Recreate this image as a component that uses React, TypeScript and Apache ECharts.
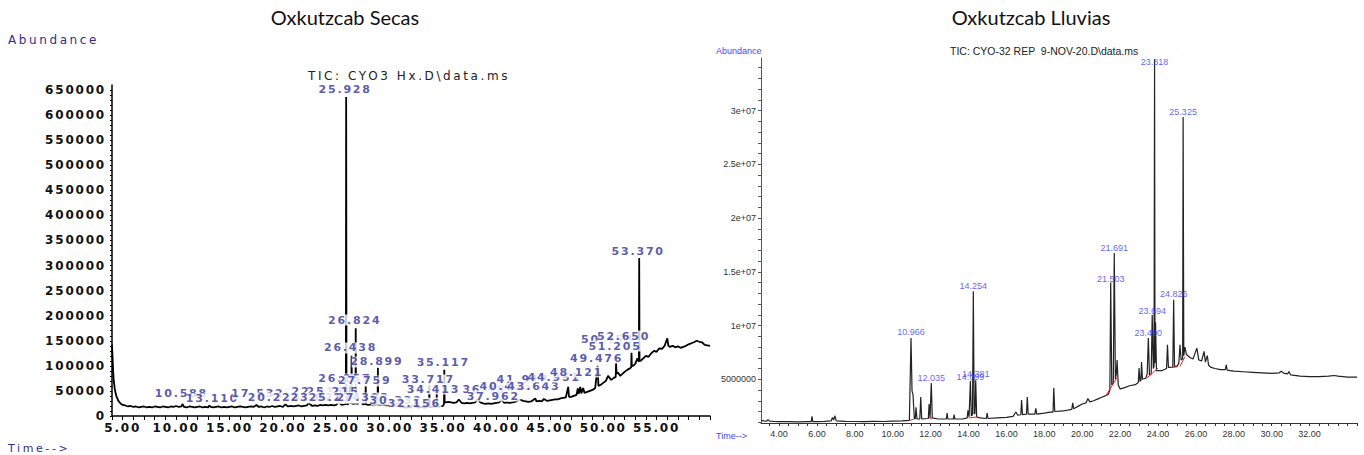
import React, { useEffect, useRef } from 'react';
import * as echarts from 'echarts';

// ---------------- DATA ----------------
const LEFT_TITLE = 'Oxkutzcab Secas';
const RIGHT_TITLE = 'Oxkutzcab Lluvias';
const LEFT_TIC = 'TIC: CYO3 Hx.D\\data.ms';
const RIGHT_TIC = 'TIC: CYO-32 REP  9-NOV-20.D\\data.ms';

const LEFT_Y_LABELS = [0, 50000, 100000, 150000, 200000, 250000, 300000, 350000, 400000, 450000, 500000, 550000, 600000, 650000];
const LEFT_X_LABELS = [5, 10, 15, 20, 25, 30, 35, 40, 45, 50, 55];

const RIGHT_Y_VALUES = [5000000, 10000000, 15000000, 20000000, 25000000, 30000000];
const RIGHT_Y_TEXT = ['5000000', '1e+07', '1.5e+07', '2e+07', '2.5e+07', '3e+07'];
const RIGHT_X_LABELS = [4, 6, 8, 10, 12, 14, 16, 18, 20, 22, 24, 26, 28, 30, 32];

// Left TIC: [retention time (min), abundance (thousands)]
const LEFT_SIGNAL_K: [number, number][] = [
  [4.00, 142], [4.05, 118], [4.10, 92], [4.15, 74], [4.25, 55], [4.40, 40], [4.60, 30], [4.80, 25], [5.00, 22], [5.25, 21],
  [5.50, 19], [5.75, 20], [6.00, 18], [6.25, 19], [6.50, 17], [6.75, 18], [7.00, 19], [7.25, 17], [7.50, 18], [7.75, 17],
  [8.00, 19], [8.25, 18], [8.50, 17], [8.75, 19], [9.00, 18], [9.25, 17], [9.50, 19], [9.75, 18], [10.00, 20], [10.25, 18],
  [10.50, 19], [10.59, 24], [10.75, 18], [11.00, 17], [11.25, 19], [11.50, 18], [11.75, 17], [12.00, 18], [12.25, 19], [12.50, 17],
  [12.75, 18], [13.00, 17], [13.11, 21], [13.25, 18], [13.50, 17], [13.75, 18], [14.00, 19], [14.25, 17], [14.50, 18], [14.75, 17],
  [15.00, 18], [15.25, 19], [15.50, 17], [15.75, 18], [16.00, 19], [16.25, 18], [16.50, 17], [16.75, 18], [17.00, 19], [17.25, 18],
  [17.53, 22], [17.75, 18], [18.00, 19], [18.25, 17], [18.50, 19], [18.75, 18], [19.00, 20], [19.25, 18], [19.50, 19], [19.75, 20],
  [20.00, 18], [20.23, 23], [20.50, 19], [20.75, 20], [21.00, 19], [21.25, 20], [21.50, 21], [21.75, 19], [22.00, 20], [22.25, 21],
  [22.42, 26], [22.75, 20], [23.00, 21], [23.25, 20], [23.50, 22], [23.75, 21], [24.00, 22], [24.25, 21], [24.50, 22], [24.75, 21],
  [25.00, 22], [25.22, 28], [25.50, 22], [25.75, 23], [25.90, 24], [25.928, 636], [25.96, 24], [26.10, 23], [26.22, 30], [26.26, 60],
  [26.30, 26], [26.41, 25], [26.438, 120], [26.47, 25], [26.60, 24], [26.80, 25], [26.824, 175], [26.85, 25], [27.00, 24], [27.30, 30],
  [27.50, 23], [27.73, 24], [27.759, 60], [27.79, 23], [28.00, 22], [28.25, 23], [28.50, 22], [28.75, 23], [28.87, 23], [28.899, 96],
  [28.93, 22], [29.10, 22], [29.25, 23], [29.50, 22], [29.75, 21], [30.00, 22], [30.33, 27], [30.50, 21], [30.75, 20], [31.00, 19],
  [31.25, 18], [31.50, 17], [31.75, 18], [32.00, 17], [32.15, 22], [32.50, 18], [32.75, 17], [33.00, 18], [33.25, 17], [33.50, 18],
  [33.69, 18], [33.717, 65], [33.75, 18], [34.00, 18], [34.25, 19], [34.39, 19], [34.413, 46], [34.44, 19], [34.60, 18], [34.75, 19],
  [35.00, 20], [35.09, 24], [35.117, 92], [35.15, 27], [35.25, 27], [35.50, 28], [35.75, 27], [36.00, 26], [36.25, 27], [36.48, 33],
  [36.75, 26], [37.00, 25], [37.25, 26], [37.50, 25], [37.75, 26], [38.00, 27], [38.25, 34], [38.50, 27], [38.75, 25], [39.00, 24],
  [39.25, 25], [39.50, 24], [39.75, 25], [40.00, 26], [40.25, 27], [40.45, 32], [40.75, 26], [41.00, 27], [41.25, 26], [41.50, 27],
  [41.75, 28], [42.00, 31], [42.25, 32], [42.50, 30], [42.75, 29], [43.00, 28], [43.25, 29], [43.64, 35], [43.75, 29], [44.00, 30],
  [44.25, 29], [44.45, 34], [44.75, 30], [45.00, 31], [45.25, 32], [45.50, 33], [45.75, 33], [46.00, 35], [46.25, 36], [46.50, 37],
  [46.72, 58], [46.80, 38], [47.00, 38], [47.25, 40], [47.50, 42], [47.62, 55], [47.70, 44], [47.85, 58], [47.95, 45], [48.121, 56],
  [48.25, 46], [48.50, 48], [48.75, 50], [49.00, 52], [49.25, 56], [49.476, 100], [49.55, 60], [49.75, 62], [50.00, 66], [50.25, 70],
  [50.45, 80], [50.75, 72], [51.00, 76], [51.17, 78], [51.205, 106], [51.25, 85], [51.40, 86], [51.60, 80], [51.80, 84], [52.00, 88],
  [52.25, 92], [52.50, 95], [52.62, 97], [52.650, 126], [52.68, 100], [52.80, 100], [53.00, 104], [53.20, 115], [53.34, 108], [53.370, 315],
  [53.40, 110], [53.50, 110], [53.75, 115], [54.00, 120], [54.25, 118], [54.50, 125], [54.75, 130], [55.00, 128], [55.25, 135], [55.50, 134],
  [55.75, 140], [56.00, 155], [56.10, 140], [56.25, 138], [56.50, 140], [56.75, 137], [57.00, 139], [57.25, 136], [57.50, 138], [57.75, 140],
  [58.00, 143], [58.25, 145], [58.50, 147], [58.75, 150], [59.00, 148], [59.25, 147], [59.50, 142], [59.75, 141], [60.00, 140],
];

// Left peak labels: [text, anchor time (min), anchor abundance (thousands)]
const LEFT_PEAK_LABELS: [string, number, number][] = [
  ['10.588', 10.59, 43.9], ['13.110', 13.5, 33.9], ['17.532', 17.76, 43.9], ['20.228', 19.3, 35.9],
  ['22.418', 23.4, 49.8], ['25.215', 24.8, 49.8], ['23.025', 23.3, 35.9], ['25.274', 25.0, 35.9],
  ['26.257', 25.9, 73.8], ['27.303', 27.6, 35.9], ['30.332', 30.7, 31.9], ['32.156', 32.4, 25.9],
  ['25.928', 25.928, 651.9], ['26.824', 26.824, 191.4], ['26.438', 26.438, 135.6], ['28.899', 28.899, 107.7],
  ['27.759', 27.759, 69.8], ['35.117', 35.117, 105.7], ['33.717', 33.717, 71.8], ['34.413', 34.2, 53.8],
  ['36.484', 39.4, 53.8], ['37.962', 39.8, 39.8], ['40.433', 41.0, 59.8], ['41.917', 42.6, 71.8],
  ['43.643', 43.6, 59.8], ['44.951', 45.5, 77.7], ['48.121', 47.6, 87.7], ['49.476', 49.476, 115.6],
  ['50.458', 50.5, 153.5], ['51.205', 51.2, 139.5], ['52.650', 52.0, 159.5], ['53.370', 53.37, 329.0],
];

// Right TIC: [retention time (min), abundance (millions)]
const RIGHT_SIGNAL_M: [number, number][] = [
  [3.05, 1.16], [3.2, 1.12], [3.35, 1.10], [3.42, 1.25], [3.5, 1.10], [3.7, 1.08], [4.0, 1.06], [4.5, 1.05], [5.0, 1.04], [5.5, 1.05],
  [5.7, 1.05], [5.74, 1.55], [5.78, 1.06], [6.0, 1.05], [6.4, 1.08], [6.75, 1.12], [6.82, 1.45], [6.88, 1.2], [6.95, 1.6], [7.02, 1.12],
  [7.5, 1.08], [8.0, 1.07], [8.5, 1.06], [9.0, 1.08], [9.5, 1.07], [10.0, 1.10], [10.5, 1.12], [10.88, 1.18], [10.966, 8.85], [11.02, 3.9],
  [11.07, 3.6], [11.14, 1.35], [11.19, 1.3], [11.23, 2.4], [11.28, 1.3], [11.43, 1.3], [11.48, 3.35], [11.53, 1.3], [11.88, 1.35], [11.92, 2.7],
  [11.97, 1.4], [12.035, 4.65], [12.09, 1.4], [12.4, 1.3], [12.83, 1.3], [12.87, 1.85], [12.91, 1.3], [13.2, 1.3], [13.24, 1.7], [13.28, 1.3],
  [13.7, 1.3], [13.93, 1.4], [13.97, 2.1], [14.03, 1.5], [14.099, 4.84], [14.15, 1.6], [14.21, 1.7], [14.254, 13.2], [14.3, 1.8], [14.34, 1.8],
  [14.381, 4.9], [14.43, 1.5], [14.6, 1.4], [14.94, 1.35], [14.98, 1.86], [15.03, 1.35], [15.5, 1.4], [16.0, 1.45], [16.35, 1.55], [16.5, 1.95],
  [16.6, 1.65], [16.76, 1.7], [16.8, 3.07], [16.85, 1.7], [17.06, 1.75], [17.1, 3.35], [17.15, 1.75], [17.5, 1.75], [17.55, 2.3], [17.6, 1.75],
  [18.0, 1.85], [18.3, 1.95], [18.46, 1.95], [18.5, 4.2], [18.55, 2.0], [19.0, 2.05], [19.45, 2.2], [19.5, 2.8], [19.55, 2.25], [19.8, 2.5],
  [20.0, 2.7], [20.2, 2.8], [20.3, 3.2], [20.4, 2.9], [20.6, 3.0], [20.8, 3.15], [21.0, 3.3], [21.2, 3.45], [21.38, 3.6], [21.46, 4.0],
  [21.503, 14.0], [21.56, 4.5], [21.64, 4.6], [21.691, 16.75], [21.75, 5.0], [21.80, 5.5], [21.84, 6.8], [21.9, 4.5], [22.0, 4.1], [22.2, 4.2],
  [22.5, 4.4], [22.8, 4.5], [22.96, 4.7], [23.0, 6.05], [23.05, 4.8], [23.1, 4.9], [23.13, 6.6], [23.18, 5.0], [23.35, 5.1], [23.43, 5.5],
  [23.49, 8.85], [23.55, 5.4], [23.64, 5.5], [23.694, 11.0], [23.75, 6.0], [23.79, 6.2], [23.818, 34.8], [23.84, 6.5], [23.87, 10.3], [23.92, 5.8],
  [24.2, 5.8], [24.45, 6.0], [24.5, 8.2], [24.55, 6.1], [24.78, 6.1], [24.826, 12.4], [24.87, 6.2], [25.0, 6.2], [25.1, 6.5], [25.16, 8.2],
  [25.22, 6.8], [25.3, 6.9], [25.325, 29.4], [25.36, 7.2], [25.42, 8.0], [25.5, 7.3], [25.7, 7.0], [25.85, 6.9], [26.05, 7.9], [26.15, 6.8],
  [26.3, 6.7], [26.43, 7.6], [26.5, 6.6], [26.6, 7.2], [26.67, 6.3], [26.8, 6.1], [27.0, 6.0], [27.3, 5.9], [27.55, 5.9], [27.6, 6.35],
  [27.65, 5.85], [28.0, 5.75], [28.5, 5.7], [29.0, 5.65], [29.5, 5.6], [30.0, 5.55], [30.4, 5.6], [30.5, 5.75], [30.65, 5.55], [30.85, 5.5],
  [30.9, 5.72], [31.0, 5.4], [31.5, 5.3], [32.0, 5.25], [32.5, 5.25], [33.0, 5.3], [33.3, 5.35], [33.5, 5.3], [34.0, 5.2], [34.5, 5.2],
];

// Right peak labels: [text, time (min), label centre abundance (millions)]
const RIGHT_PEAK_LABELS: [string, number, number][] = [
  ['10.966', 10.966, 9.37], ['12.035', 12.035, 5.15], ['14.099', 14.099, 5.24], ['14.381', 14.381, 5.52],
  ['14.254', 14.254, 13.68], ['21.503', 21.503, 14.3], ['21.691', 21.691, 17.25], ['23.490', 23.49, 9.28],
  ['23.694', 23.694, 11.38], ['23.818', 23.818, 34.53], ['24.826', 24.826, 12.94], ['25.325', 25.325, 29.85],
];

// Right integration baselines (red): [[t0, m0], [t1, m1]]
const RIGHT_BASELINES_M: [number, number][][] = [
  [[10.87, 1.15], [11.12, 1.3]], [[11.95, 1.35], [12.1, 1.4]], [[14.0, 1.4], [14.48, 1.5]],
  [[21.25, 3.47], [21.82, 5.1]], [[23.4, 5.1], [24.0, 6.05]], [[24.67, 6.1], [25.0, 6.15]], [[25.16, 6.2], [25.42, 7.1]],
];

// ---------------- STYLE ----------------
const LF = 'DejaVu Sans';
const RF = 'Liberation Sans';
const LEFT_BLUE = '#30309a';
const RIGHT_BLUE = '#3838ff';

const css = `
#chart-root svg text[style*="DejaVu"], #chart-root svg text[font-family*="DejaVu"] { letter-spacing: 2.6px; }
#chart-root svg text[style*="DejaVu"][style*="bold"], #chart-root svg text[font-family*="DejaVu"][font-weight="bold"] { letter-spacing: 1.8px; }
`;

function buildOption() {
  const leftTicks: number[] = [];
  for (let v = 0; v <= 650000; v += 10000) leftTicks.push(v);
  const rightYTicks: number[] = [];
  for (let v = 1000000; v <= 34000000; v += 1000000) rightYTicks.push(v);
  const rightXTicks: number[] = [];
  for (let v = 3.5; v <= 34.5; v += 0.5) rightXTicks.push(v);

  const series: any[] = [
    {
      type: 'line', xAxisIndex: 0, yAxisIndex: 0, z: 2, silent: true,
      symbol: 'none', showSymbol: false,
      lineStyle: { color: '#000', width: 1.8 },
      data: LEFT_SIGNAL_K.map(([t, k]) => [t, k * 1000]),
    },
    {
      type: 'scatter', xAxisIndex: 0, yAxisIndex: 0, z: 5, silent: true,
      symbolSize: 1, itemStyle: { color: 'transparent' },
      data: LEFT_PEAK_LABELS.map(([txt, t, k]) => ({ name: txt, value: [t, k * 1000] })),
      label: {
        show: true, position: 'inside', formatter: (p: any) => p.name,
        color: LEFT_BLUE, fontFamily: LF, fontSize: 11, fontWeight: 'bold',
        backgroundColor: '#fff', padding: [0, 6, 0, 4],
      },
    },
    {
      type: 'line', xAxisIndex: 1, yAxisIndex: 1, z: 2, silent: true,
      symbol: 'none', showSymbol: false,
      lineStyle: { color: '#222', width: 1.2 },
      data: RIGHT_SIGNAL_M.map(([t, m]) => [t, m * 1e6]),
    },
    ...RIGHT_BASELINES_M.map((seg) => ({
      type: 'line', xAxisIndex: 1, yAxisIndex: 1, z: 3, silent: true,
      symbol: 'none', showSymbol: false,
      lineStyle: { color: '#ff2020', width: 1 },
      data: seg.map(([t, m]) => [t, m * 1e6]),
    })),
    {
      type: 'scatter', xAxisIndex: 1, yAxisIndex: 1, z: 5, silent: true,
      symbolSize: 1, itemStyle: { color: 'transparent' },
      data: RIGHT_PEAK_LABELS.map(([txt, t, m]) => ({ name: txt, value: [t, m * 1e6] })),
      label: {
        show: true, position: 'inside', formatter: (p: any) => p.name,
        color: RIGHT_BLUE, fontFamily: RF, fontSize: 9,
      },
    },
  ];

  return {
    animation: false,
    backgroundColor: '#fff',
    grid: [
      { left: 112, top: 85, width: 598, height: 331 },
      { left: 761, top: 58, width: 596, height: 365 },
    ],
    xAxis: [
      {
        gridIndex: 0, type: 'value', min: 4, max: 60, interval: 1,
        axisLine: { onZero: false, lineStyle: { color: '#000', width: 1.5 } },
        axisTick: { show: true, length: 4, lineStyle: { color: '#000' } },
        axisLabel: {
          customValues: LEFT_X_LABELS, formatter: (v: number) => v.toFixed(2),
          color: '#111', fontFamily: LF, fontSize: 12, fontWeight: 'bold', margin: 6,
        },
        splitLine: { show: false },
      },
      {
        gridIndex: 1, type: 'value', min: 3.05, max: 34.5,
        axisLine: { onZero: false, lineStyle: { color: '#333', width: 1 } },
        axisTick: { show: true, length: 3, customValues: rightXTicks, lineStyle: { color: '#333' } },
        axisLabel: {
          customValues: RIGHT_X_LABELS, formatter: (v: number) => v.toFixed(2),
          color: '#333', fontFamily: RF, fontSize: 9, margin: 6,
        },
        splitLine: { show: false },
      },
    ],
    yAxis: [
      {
        gridIndex: 0, type: 'value', min: 0, max: 660000,
        axisLine: { show: true, onZero: false, lineStyle: { color: '#000', width: 1.5 } },
        axisTick: { show: true, length: 2, customValues: leftTicks, lineStyle: { color: '#000' } },
        axisLabel: {
          customValues: LEFT_Y_LABELS, formatter: (v: number) => String(v),
          color: '#111', fontFamily: LF, fontSize: 12, fontWeight: 'bold', margin: 6,
        },
        splitLine: { show: false },
      },
      {
        gridIndex: 1, type: 'value', min: 930000, max: 34900000,
        axisLine: { show: true, onZero: false, lineStyle: { color: '#555', width: 1 } },
        axisTick: { show: true, length: 3, customValues: rightYTicks, lineStyle: { color: '#555' } },
        axisLabel: {
          customValues: RIGHT_Y_VALUES,
          formatter: (v: number) => {
            const i = RIGHT_Y_VALUES.indexOf(v);
            return i >= 0 ? RIGHT_Y_TEXT[i] : '';
          },
          color: '#333', fontFamily: RF, fontSize: 9, margin: 5,
        },
        splitLine: { show: false },
      },
    ],
    graphic: [
      { type: 'text', x: 345, y: 17, style: { text: LEFT_TITLE, fontFamily: 'Lato', fontSize: 20, fill: '#111', align: 'center', verticalAlign: 'middle' } },
      { type: 'text', x: 1031, y: 17, style: { text: RIGHT_TITLE, fontFamily: 'Lato', fontSize: 20, fill: '#111', align: 'center', verticalAlign: 'middle' } },
      { type: 'text', x: 8, y: 40, style: { text: 'Abundance', fontFamily: LF, fontSize: 12, fill: '#2e2e90', align: 'left', verticalAlign: 'middle' } },
      { type: 'text', x: 8, y: 448, style: { text: 'Time-->', fontFamily: LF, fontSize: 11, fill: '#2e2e90', align: 'left', verticalAlign: 'middle' } },
      { type: 'text', x: 308, y: 76, style: { text: LEFT_TIC, fontFamily: LF, fontSize: 12, fill: '#222', align: 'left', verticalAlign: 'middle' } },
      { type: 'text', x: 716, y: 51, style: { text: 'Abundance', fontFamily: RF, fontSize: 9, fill: '#4444ff', align: 'left', verticalAlign: 'middle' } },
      { type: 'text', x: 716, y: 436, style: { text: 'Time-->', fontFamily: RF, fontSize: 9, fill: '#4444ff', align: 'left', verticalAlign: 'middle' } },
      { type: 'text', x: 950, y: 51, style: { text: RIGHT_TIC, fontFamily: RF, fontSize: 10.5, fill: '#222', align: 'left', verticalAlign: 'middle' } },
    ],
    series,
  };
}

export default function App() {
  const ref = useRef<HTMLDivElement>(null);
  useEffect(() => {
    if (!ref.current) return;
    const chart = echarts.init(ref.current, null, { renderer: 'svg' });
    chart.setOption(buildOption() as any);
    return () => chart.dispose();
  }, []);
  return (
    <>
      <style>{css}</style>
      <div
        id="chart-root"
        ref={ref}
        style={{ position: 'absolute', left: 0, top: 0, width: 1364, height: 455, background: '#fff' }}
      />
    </>
  );
}
